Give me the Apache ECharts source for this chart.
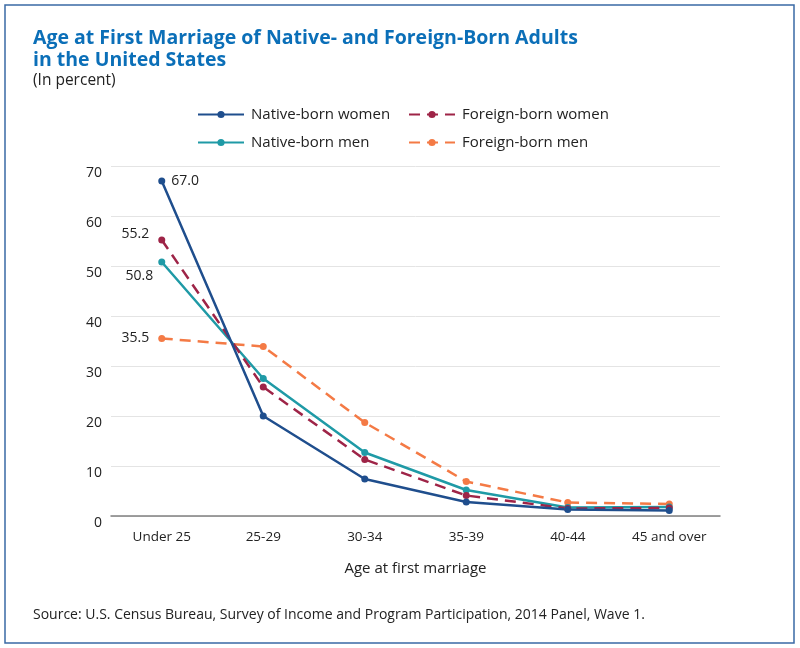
<!DOCTYPE html>
<html>
<head>
<meta charset="UTF-8">
<title>Age at First Marriage of Native- and Foreign-Born Adults</title>
<script src="https://cdn.jsdelivr.net/npm/echarts@6/dist/echarts.min.js"></script>
<style>
html, body { margin: 0; padding: 0; background: #fff; }
#chart { width: 800px; height: 648px; }
</style>
</head>
<body>
<div id="chart"></div>
<script>
// data
var categories = ['Under 25', '25-29', '30-34', '35-39', '40-44', '45 and over'];
var nativeWomen = [67.0, 20.0, 7.4, 2.8, 1.3, 1.1];
var nativeMen = [50.8, 27.5, 12.7, 5.2, 1.7, 1.8];
var foreignWomen = [55.2, 25.8, 11.3, 4.1, 1.5, 1.6];
var foreignMen = [35.5, 33.9, 18.7, 6.9, 2.7, 2.4];
var yMin = 0, yMax = 70, yStep = 10;

var FONT = 'Open Sans';
var colors = {
    nw: '#1f4e8d',
    nm: '#1f9aa6',
    fw: '#9e2447',
    fm: '#f47a45'
};

// only the first point carries a value label
function withFirstLabel(arr, pos, offset, dist) {
    return arr.map(function(v, i) {
        if (i > 0) return v;
        return {
            value: v,
            label: {
                show: true,
                position: pos,
                distance: dist,
                offset: offset,
                formatter: function(p) { return p.value.toFixed(1); },
                color: '#222',
                fontFamily: FONT,
                fontSize: 14
            }
        };
    });
}

function mkSeries(name, arr, color, dashed, pos, offset, dist) {
    return {
        name: name,
        type: 'line',
        data: withFirstLabel(arr, pos, offset, dist),
        symbol: 'circle',
        symbolSize: 7,
        lineStyle: { color: color, width: 2.5, type: dashed ? [11, 7] : 'solid' },
        itemStyle: { color: color },
        emphasis: { disabled: true }
    };
}

function mkLegend(name, left, top) {
    return {
        data: [name],
        left: left,
        top: top,
        itemWidth: 46,
        itemHeight: 9,
        textStyle: { fontFamily: FONT, fontSize: 15, color: '#222', padding: [0, 0, 0, 2] },
        selectedMode: false
    };
}

var chart = echarts.init(document.getElementById('chart'));
var option = {
    animation: false,
    backgroundColor: '#fff',
    title: [{
        text: 'Age at First Marriage of Native- and Foreign-Born Adults\nin the United States',
        left: 28,
        top: 22,
        textStyle: { fontFamily: FONT, fontWeight: 'bold', fontSize: 19.5, lineHeight: 22, color: '#0b6fb8' }
    }, {
        text: '(In percent)',
        left: 28,
        top: 68,
        textStyle: { fontFamily: FONT, fontWeight: 'normal', fontSize: 15.5, color: '#222' }
    }],
    legend: [
        mkLegend('Native-born women', 192, 102),
        mkLegend('Foreign-born women', 403, 102),
        mkLegend('Native-born men', 192, 130),
        mkLegend('Foreign-born men', 403, 130)
    ],
    grid: { left: 111, right: 80, top: 166, bottom: 132 },
    xAxis: {
        type: 'category',
        data: categories,
        boundaryGap: true,
        axisLine: { lineStyle: { color: '#808080', width: 1.5 } },
        axisTick: { show: false },
        axisLabel: { fontFamily: FONT, fontSize: 13.5, color: '#222', margin: 14 },
        name: 'Age at first marriage',
        nameLocation: 'middle',
        nameGap: 45,
        nameTextStyle: { fontFamily: FONT, fontSize: 15, color: '#222' }
    },
    yAxis: {
        type: 'value',
        min: yMin,
        max: yMax,
        interval: yStep,
        axisLine: { show: false },
        axisTick: { show: false },
        splitLine: { lineStyle: { color: '#e4e4e4', width: 1 } },
        axisLabel: { fontFamily: FONT, fontSize: 14, color: '#222', margin: 9, verticalAlign: 'top' }
    },
    series: [
        mkSeries('Foreign-born men', foreignMen, colors.fm, true, 'left', [0, 0], 9),
        mkSeries('Native-born men', nativeMen, colors.nm, false, 'left', [0, 14], 5),
        mkSeries('Foreign-born women', foreignWomen, colors.fw, true, 'left', [0, -6], 9),
        mkSeries('Native-born women', nativeWomen, colors.nw, false, 'right', [0, 0], 6)
    ],
    graphic: [{
        type: 'rect',
        shape: { x: 5, y: 5, width: 789, height: 638 },
        style: { fill: 'none', stroke: '#3a6aa5', lineWidth: 1.5 },
        silent: true
    }, {
        type: 'text',
        left: 33,
        top: 608,
        style: {
            text: 'Source: U.S. Census Bureau, Survey of Income and Program Participation, 2014 Panel, Wave 1.',
            fontFamily: FONT,
            fontSize: 14,
            fill: '#222'
        }
    }]
};
chart.setOption(option);
</script>
</body>
</html>
